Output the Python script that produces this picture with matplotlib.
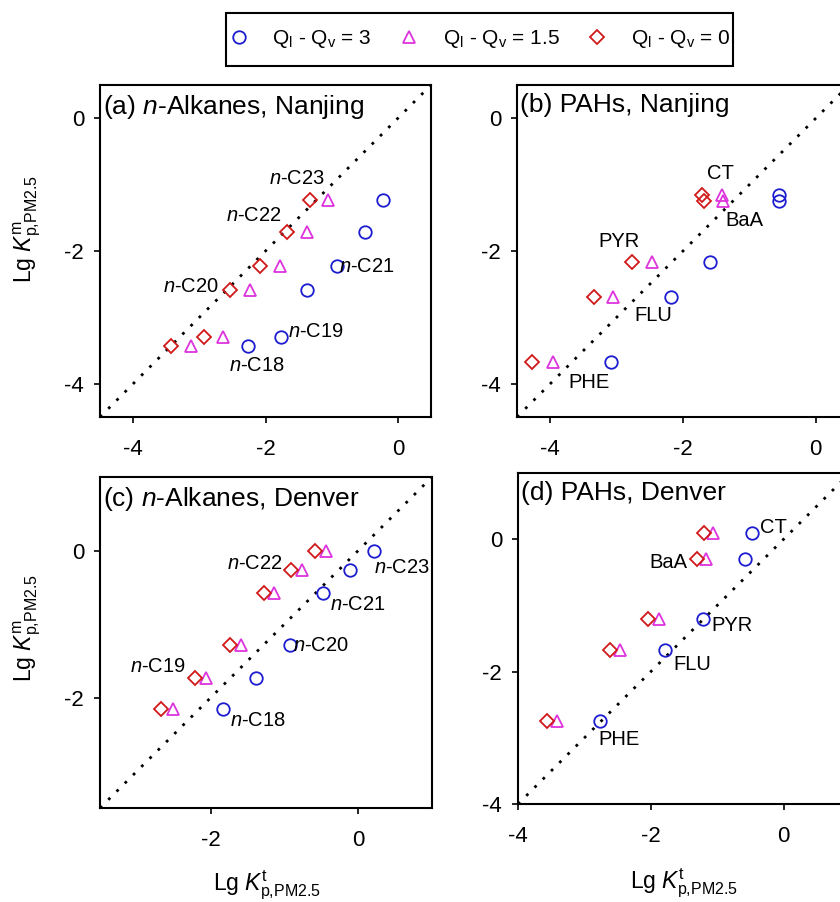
import matplotlib
matplotlib.use("Agg")
import matplotlib.pyplot as plt
from matplotlib.lines import Line2D
from matplotlib.patches import Rectangle

plt.rcParams["font.family"] = ["Liberation Sans", "DejaVu Sans"]
plt.rcParams["mathtext.fontset"] = "custom"
plt.rcParams["mathtext.rm"] = "Liberation Sans"
plt.rcParams["mathtext.it"] = "Liberation Sans:italic"
plt.rcParams["mathtext.bf"] = "Liberation Sans:bold"

# ---- data: y = measured lg Kp, x = theoretical lg Kp for three (Ql - Qv) settings
alk_names = ["$\\mathit{n}$-C18", "$\\mathit{n}$-C19", "$\\mathit{n}$-C20",
             "$\\mathit{n}$-C21", "$\\mathit{n}$-C22", "$\\mathit{n}$-C23"]
pah_names = ["PHE", "FLU", "PYR", "BaA", "CT"]

alk_nj_meas = [-3.43, -3.30, -2.58, -2.22, -1.72, -1.23]
alk_nj_q3 = [-2.26, -1.77, -1.38, -0.92, -0.49, -0.23]
alk_nj_q15 = [-3.13, -2.64, -2.24, -1.78, -1.37, -1.06]
alk_nj_q0 = [-3.42, -2.93, -2.53, -2.08, -1.67, -1.33]

pah_nj_meas = [-3.67, -2.69, -2.17, -1.24, -1.16]
pah_nj_q3 = [-3.09, -2.18, -1.59, -0.55, -0.55]
pah_nj_q15 = [-3.96, -3.05, -2.47, -1.40, -1.42]
pah_nj_q0 = [-4.27, -3.34, -2.77, -1.69, -1.72]

alk_dv_meas = [-2.16, -1.73, -1.28, -0.58, -0.26, -0.01]
alk_dv_q3 = [-1.83, -1.39, -0.93, -0.48, -0.11, 0.21]
alk_dv_q15 = [-2.51, -2.06, -1.59, -1.14, -0.76, -0.43]
alk_dv_q0 = [-2.67, -2.21, -1.74, -1.28, -0.91, -0.58]

pah_dv_meas = [-2.75, -1.68, -1.21, -0.30, 0.09]
pah_dv_q3 = [-2.76, -1.79, -1.22, -0.58, -0.48]
pah_dv_q15 = [-3.42, -2.47, -1.88, -1.17, -1.06]
pah_dv_q0 = [-3.57, -2.62, -2.04, -1.30, -1.20]

# label anchor points (text centres, data units)
alk_nj_lab = [(-2.13, -3.73), (-1.24, -3.21), (-3.12, -2.53),
              (-0.47, -2.23), (-2.18, -1.46), (-1.52, -0.91)]
pah_nj_lab = [(-3.42, -3.98), (-2.45, -2.97), (-2.97, -1.86),
              (-1.08, -1.54), (-1.43, -0.84)]
alk_dv_lab = [(-1.36, -2.31), (-2.71, -1.58), (-0.51, -1.29),
              (-0.01, -0.74), (-1.40, -0.18), (0.59, -0.23)]
pah_dv_lab = [(-2.48, -3.03), (-1.38, -1.89), (-0.77, -1.30),
              (-1.74, -0.35), (-0.15, 0.18)]

series_labels = ["Q$_\\mathregular{l}$ - Q$_\\mathregular{v}$ = 3",
                 "Q$_\\mathregular{l}$ - Q$_\\mathregular{v}$ = 1.5",
                 "Q$_\\mathregular{l}$ - Q$_\\mathregular{v}$ = 0"]
BLUE, MAGENTA, RED = "#1c1cd0", "#dd33dd", "#d01818"
styles = [
    dict(marker="o", color=BLUE, ms=9),
    dict(marker="^", color=MAGENTA, ms=9),
    dict(marker="D", color=RED, ms=7),
]

W, H = 840, 902
fig = plt.figure(figsize=(W / 100, H / 100), dpi=100)


def px_axes(left, top, right, bottom):
    return fig.add_axes([left / W, 1 - bottom / H, (right - left) / W, (bottom - top) / H])


def draw_panel(ax, title, meas, xs, names, labpos, lims, ticks):
    lo, hi = lims
    ax.plot([lo, hi], [lo, hi], color="black", lw=2.0, linestyle=(0, (1, 3.2)), zorder=1)
    for x, st in zip(xs, styles):
        ax.plot(x, meas, linestyle="none", marker=st["marker"], ms=st["ms"],
                mfc="none", mec=st["color"], mew=1.3, zorder=3)
    for name, (tx, ty) in zip(names, labpos):
        ax.text(tx, ty, name, fontsize=14.5, ha="center", va="center")
    ax.text(0.008, 0.975, title, transform=ax.transAxes, fontsize=19,
            ha="left", va="top")
    ax.set_xlim(lo, hi)
    ax.set_ylim(lo, hi)
    ax.set_xticks(ticks)
    ax.set_yticks(ticks)
    ax.set_xticklabels([f"{t:g}" for t in ticks])
    ax.set_yticklabels([f"{t:g}" for t in ticks])
    ax.tick_params(axis="both", direction="out", length=4.5, width=1.2,
                   labelsize=16, top=False, right=False)
    ax.tick_params(axis="x", pad=11)
    ax.tick_params(axis="y", pad=7)
    for sp in ax.spines.values():
        sp.set_linewidth(1.5)


ax_a = px_axes(100, 85, 431, 417)
ax_b = px_axes(517, 85, 849, 417)
ax_c = px_axes(100, 477, 432, 808)
ax_d = px_axes(518, 473, 850, 804)

draw_panel(ax_a, "(a) $\\mathit{n}$-Alkanes, Nanjing", alk_nj_meas,
           [alk_nj_q3, alk_nj_q15, alk_nj_q0], alk_names, alk_nj_lab,
           (-4.5, 0.5), [-4, -2, 0])
draw_panel(ax_b, "(b) PAHs, Nanjing", pah_nj_meas,
           [pah_nj_q3, pah_nj_q15, pah_nj_q0], pah_names, pah_nj_lab,
           (-4.5, 0.5), [-4, -2, 0])
draw_panel(ax_c, "(c) $\\mathit{n}$-Alkanes, Denver", alk_dv_meas,
           [alk_dv_q3, alk_dv_q15, alk_dv_q0], alk_names, alk_dv_lab,
           (-3.5, 1.0), [-2, 0])
draw_panel(ax_d, "(d) PAHs, Denver", pah_dv_meas,
           [pah_dv_q3, pah_dv_q15, pah_dv_q0], pah_names, pah_dv_lab,
           (-4.0, 1.0), [-4, -2, 0])

ylab = "Lg $\\mathit{K}^\\mathregular{m}_\\mathregular{p{,}PM2.5}$"
xlab = "Lg $\\mathit{K}^\\mathregular{t}_\\mathregular{p{,}PM2.5}$"
fig.text(27 / W, 1 - 229 / H, ylab, rotation=90, fontsize=16.5, ha="center", va="center")
fig.text(27 / W, 1 - 628 / H, ylab, rotation=90, fontsize=16.5, ha="center", va="center")
fig.text(267 / W, 1 - 885 / H, xlab, fontsize=16.5, ha="center", va="center")
fig.text(684 / W, 1 - 883 / H, xlab, fontsize=16.5, ha="center", va="center")

handles = [Line2D([], [], linestyle="none", marker=st["marker"], ms=st["ms"],
                  mfc="none", mec=st["color"], mew=1.3) for st in styles]
fig.legend(handles, series_labels, loc="center", bbox_to_anchor=(479.5 / W, 1 - 39.5 / H),
           ncol=3, frameon=False, fontsize=15, handlelength=1.0,
           handletextpad=1.1, columnspacing=1.3)
fig.patches.append(Rectangle((226 / W, 1 - 66 / H), 507 / W, 53 / H,
                             transform=fig.transFigure, fill=False,
                             edgecolor="black", lw=1.5))

fig.savefig("out.png", dpi=100)
